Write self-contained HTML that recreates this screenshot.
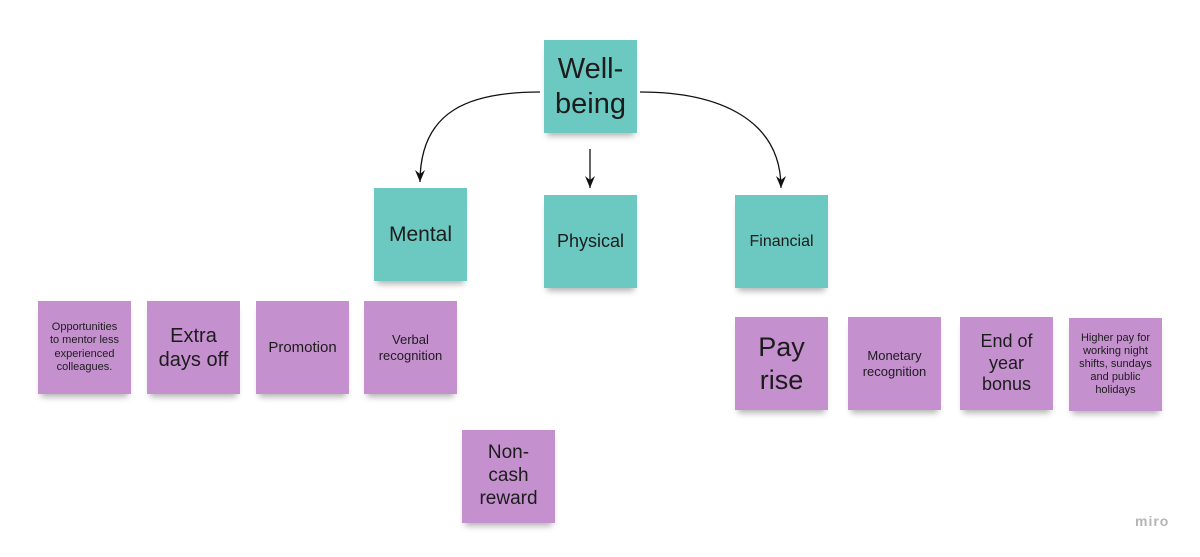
<!DOCTYPE html>
<html><head><style>
body{margin:0;width:1200px;height:557px;background:#fff;position:relative;overflow:hidden;font-family:"Liberation Sans",sans-serif;}
.n{position:absolute;width:93px;height:93px;display:flex;align-items:center;justify-content:center;text-align:center;color:#1c1c1c;box-shadow:0 6px 6px -3px rgba(0,0,0,0.3);line-height:1.2;}
.t{background:#6cc9c1;}
.p{background:#c590ce;}
</style></head><body>
<svg width="1200" height="557" style="position:absolute;left:0;top:0">
<defs><marker id="a" markerWidth="12" markerHeight="10" refX="12" refY="5" orient="auto" markerUnits="userSpaceOnUse"><path d="M0,0 L12,5 L0,10 L4,5 Z" fill="#111"/></marker></defs>
<path d="M540,92 C470,92 420,110 420,182" stroke="#111" stroke-width="1.3" fill="none" marker-end="url(#a)"/>
<path d="M590,149 L590,188" stroke="#111" stroke-width="1.3" fill="none" marker-end="url(#a)"/>
<path d="M640,92 C720,92 781,120 781,188" stroke="#111" stroke-width="1.3" fill="none" marker-end="url(#a)"/>
</svg>
<div class="n t" style="left:544px;top:40px;font-size:29px">Well-<br>being</div>
<div class="n t" style="left:374px;top:188px;font-size:21px">Mental</div>
<div class="n t" style="left:544px;top:195px;font-size:18px">Physical</div>
<div class="n t" style="left:735px;top:195px;font-size:16px">Financial</div>
<div class="n p" style="left:38px;top:301px;font-size:11px">Opportunities<br>to mentor less<br>experienced<br>colleagues.</div>
<div class="n p" style="left:147px;top:301px;font-size:20px">Extra<br>days off</div>
<div class="n p" style="left:256px;top:301px;font-size:15px">Promotion</div>
<div class="n p" style="left:364px;top:301px;font-size:13px">Verbal<br>recognition</div>
<div class="n p" style="left:462px;top:430px;font-size:19px">Non-<br>cash<br>reward</div>
<div class="n p" style="left:735px;top:317px;font-size:27px">Pay<br>rise</div>
<div class="n p" style="left:848px;top:317px;font-size:13px">Monetary<br>recognition</div>
<div class="n p" style="left:960px;top:317px;font-size:18px">End of<br>year<br>bonus</div>
<div class="n p" style="left:1069px;top:318px;font-size:11px">Higher pay for<br>working night<br>shifts, sundays<br>and public<br>holidays</div>
<div style="position:absolute;left:1135px;top:513px;color:#b5b5b5;font-size:14px;font-weight:bold;letter-spacing:1px">miro</div>
</body></html>
